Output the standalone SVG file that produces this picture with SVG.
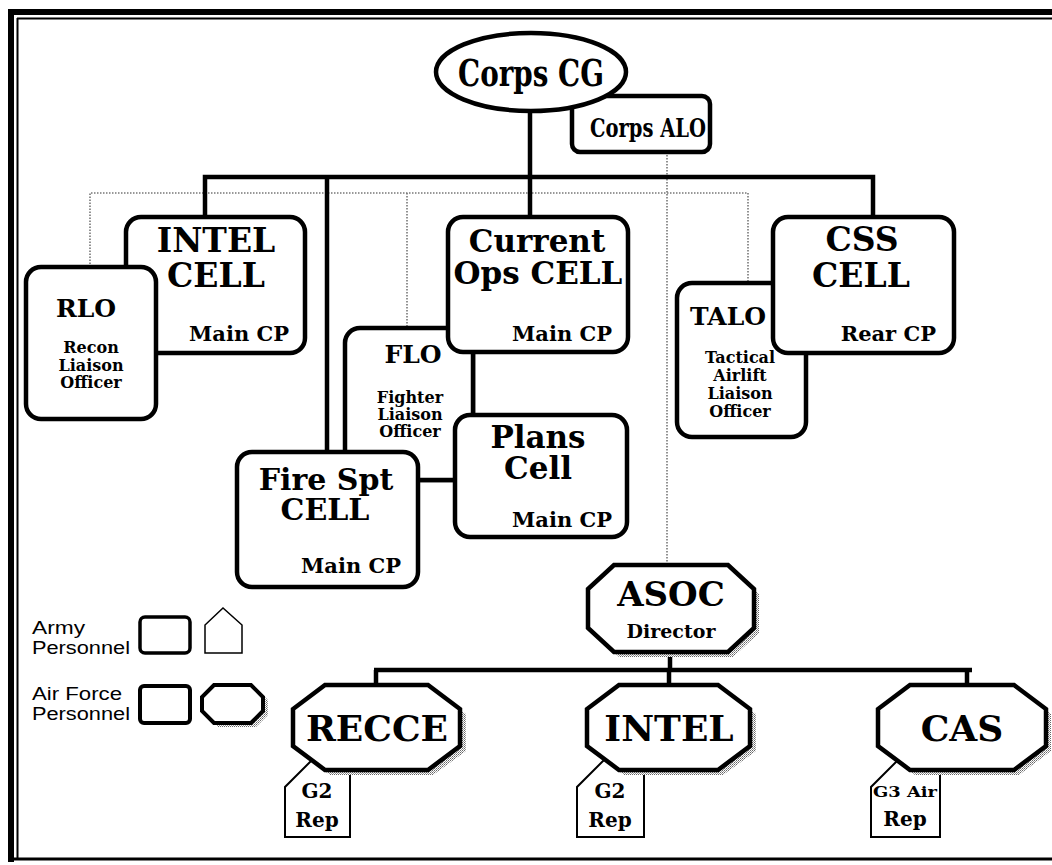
<svg xmlns="http://www.w3.org/2000/svg" width="1052" height="865" viewBox="0 0 1052 865">
<style>
.box{fill:#fff;stroke:#000;stroke-width:4.5}
.thin{fill:#fff;stroke:#000;stroke-width:2}
.conn{fill:none;stroke:#000;stroke-width:4.5}
.dot{fill:none;stroke:#777;stroke-width:1.6;stroke-dasharray:1.5 1.5}
.t{font-family:"DejaVu Serif","Liberation Serif",serif;font-weight:bold;text-anchor:middle;fill:#000}
.r{text-anchor:end}
.leg{font-family:"Liberation Sans",Arial,sans-serif;font-size:18px;fill:#000}
</style>
<defs>
<pattern id="stip" width="2" height="2" patternUnits="userSpaceOnUse">
<rect width="2" height="2" fill="#fff"/><rect width="1" height="1" fill="#666"/><rect x="1" y="1" width="1" height="1" fill="#999"/>
</pattern>
</defs>
<rect width="1052" height="865" fill="#fff"/>
<g id="frame">
<rect x="8" y="9" width="1044" height="6" fill="#000"/>
<rect x="8" y="9" width="6" height="853" fill="#000"/>
<line x1="17" y1="18.5" x2="1052" y2="18.5" stroke="#000" stroke-width="2"/>
<line x1="17.5" y1="18" x2="17.5" y2="858" stroke="#000" stroke-width="2"/>
<line x1="8" y1="859" x2="1052" y2="859" stroke="#000" stroke-width="3"/>
</g>
<g id="connectors">
<polyline class="dot" points="90,267 90,193 748,193 748,283"/>
<line class="dot" x1="407" y1="193" x2="407" y2="328"/>
<line class="dot" x1="667" y1="152" x2="667" y2="565"/>
<line class="conn" x1="530" y1="110" x2="530" y2="217"/>
<polyline class="conn" points="205,217 205,177 873,177 873,217"/>
<line class="conn" x1="327" y1="177" x2="327" y2="452"/>
<line class="conn" x1="473" y1="352" x2="473" y2="415"/>
<line class="conn" x1="418" y1="480" x2="455" y2="480"/>
<line class="conn" x1="670" y1="652" x2="670" y2="670"/>
<line class="conn" x1="374" y1="670" x2="972" y2="670"/>
<line class="conn" x1="376" y1="670" x2="376" y2="685"/>
<line class="conn" x1="669" y1="670" x2="669" y2="685"/>
<line class="conn" x1="967" y1="670" x2="967" y2="685"/>
</g>
<g id="corps-alo">
<rect class="box" x="572" y="96" width="138" height="56" rx="8"/>
<text class="t" x="648" y="137" font-size="26" textLength="116" lengthAdjust="spacingAndGlyphs">Corps ALO</text>
</g>
<g id="corps-cg">
<ellipse class="box" cx="531" cy="72" rx="95" ry="39"/>
<text class="t" x="531" y="86" font-size="38" textLength="146" lengthAdjust="spacingAndGlyphs">Corps CG</text>
</g>
<g id="intel-cell">
<rect class="box" x="126" y="217" width="179" height="136" rx="15"/>
<text class="t" x="216" y="252" font-size="33">INTEL</text>
<text class="t" x="216" y="287" font-size="33">CELL</text>
<text class="t r" x="289" y="341" font-size="21">Main CP</text>
</g>
<g id="rlo">
<rect class="box" x="26" y="267" width="130" height="152" rx="15"/>
<text class="t" x="86" y="317" font-size="25">RLO</text>
<text class="t" x="91" y="353" font-size="16">Recon</text>
<text class="t" x="91" y="371" font-size="16">Liaison</text>
<text class="t" x="91" y="388" font-size="16">Officer</text>
</g>
<g id="flo">
<rect class="box" x="345" y="328" width="128" height="152" rx="15"/>
<text class="t" x="413" y="363" font-size="25">FLO</text>
<text class="t" x="410" y="403" font-size="16">Fighter</text>
<text class="t" x="410" y="420" font-size="16">Liaison</text>
<text class="t" x="410" y="437" font-size="16">Officer</text>
</g>
<g id="current-ops">
<rect class="box" x="448" y="217" width="180" height="135" rx="15"/>
<text class="t" x="537" y="252" font-size="31">Current</text>
<text class="t" x="538" y="284" font-size="31">Ops CELL</text>
<text class="t r" x="612" y="341" font-size="21">Main CP</text>
</g>
<g id="plans">
<rect class="box" x="455" y="415" width="172" height="122" rx="15"/>
<text class="t" x="538" y="448" font-size="31">Plans</text>
<text class="t" x="538" y="479" font-size="31">Cell</text>
<text class="t r" x="612" y="527" font-size="21">Main CP</text>
</g>
<g id="fire-spt">
<rect class="box" x="237" y="452" width="181" height="135" rx="15"/>
<text class="t" x="326" y="490" font-size="30">Fire Spt</text>
<text class="t" x="325" y="520" font-size="30">CELL</text>
<text class="t r" x="401" y="573" font-size="21">Main CP</text>
</g>
<g id="talo">
<rect class="box" x="677" y="283" width="129" height="154" rx="15"/>
<text class="t" x="728" y="325" font-size="25">TALO</text>
<text class="t" x="740" y="363" font-size="16">Tactical</text>
<text class="t" x="740" y="381" font-size="16">Airlift</text>
<text class="t" x="740" y="399" font-size="16">Liaison</text>
<text class="t" x="740" y="417" font-size="16">Officer</text>
</g>
<g id="css-cell">
<rect class="box" x="773" y="217" width="181" height="136" rx="15"/>
<text class="t" x="862" y="251" font-size="33">CSS</text>
<text class="t" x="861" y="287" font-size="33">CELL</text>
<text class="t r" x="936" y="341" font-size="21">Rear CP</text>
</g>
<g id="asoc">
<polygon points="619,570 733,570 759,594 759,633 733,657 619,657 595,633 595,594" fill="url(#stip)"/>
<polygon class="box" points="614,565 728,565 754,589 754,628 728,652 614,652 588,628 588,589"/>
<text class="t" x="671" y="606" font-size="34">ASOC</text>
<text class="t" x="671" y="638" font-size="19">Director</text>
</g>
<g id="recce">
<polygon class="thin" points="285,837 285,787 312,760 350,760 350,837"/>
<polygon points="330,690 433,690 466,714 466,751 433,775 330,775 298,751 298,714" fill="url(#stip)"/>
<polygon class="box" points="325,685 428,685 460,709 460,746 428,770 325,770 293,746 293,709"/>
<text class="t" x="377" y="741" font-size="36">RECCE</text>
<text class="t" x="317" y="798" font-size="20">G2</text>
<text class="t" x="317" y="827" font-size="20">Rep</text>
</g>
<g id="intel">
<polygon class="thin" points="577,837 577,787 604,760 644,760 644,837"/>
<polygon points="624,690 723,690 756,714 756,751 723,775 624,775 593,751 593,714" fill="url(#stip)"/>
<polygon class="box" points="619,685 718,685 750,709 750,746 718,770 619,770 587,746 587,709"/>
<text class="t" x="669" y="741" font-size="36">INTEL</text>
<text class="t" x="610" y="798" font-size="20">G2</text>
<text class="t" x="610" y="827" font-size="20">Rep</text>
</g>
<g id="cas">
<polygon class="thin" points="871,837 871,787 898,760 940,760 940,837"/>
<polygon points="915,690 1019,690 1051,714 1051,751 1019,775 915,775 884,751 884,714" fill="url(#stip)"/>
<polygon class="box" points="910,685 1014,685 1046,709 1046,746 1014,770 910,770 878,746 878,709"/>
<text class="t" x="962" y="741" font-size="36">CAS</text>
<text class="t" x="905" y="797" font-size="15" textLength="64" lengthAdjust="spacingAndGlyphs">G3 Air</text>
<text class="t" x="905" y="826" font-size="20">Rep</text>
</g>
<g id="legend">
<text class="leg" x="32" y="634" textLength="53" lengthAdjust="spacingAndGlyphs">Army</text>
<text class="leg" x="32" y="654" textLength="98" lengthAdjust="spacingAndGlyphs">Personnel</text>
<rect x="140" y="617" width="50" height="36" rx="5" fill="#fff" stroke="#000" stroke-width="3.5"/>
<polygon points="205,653 205,625 223,608 242,625 242,653" fill="#fff" stroke="#000" stroke-width="1.5"/>
<text class="leg" x="32" y="700" textLength="90" lengthAdjust="spacingAndGlyphs">Air Force</text>
<text class="leg" x="32" y="720" textLength="98" lengthAdjust="spacingAndGlyphs">Personnel</text>
<rect x="140" y="686" width="50" height="37" rx="4" fill="#fff" stroke="#000" stroke-width="4"/>
<polygon points="218,688 256,688 268,700 268,715 256,727 218,727 206,715 206,700" fill="url(#stip)"/>
<polygon points="214,685 251,685 263,697 263,711 251,723 214,723 202,711 202,697" fill="#fff" stroke="#000" stroke-width="4"/>
</g>
</svg>
